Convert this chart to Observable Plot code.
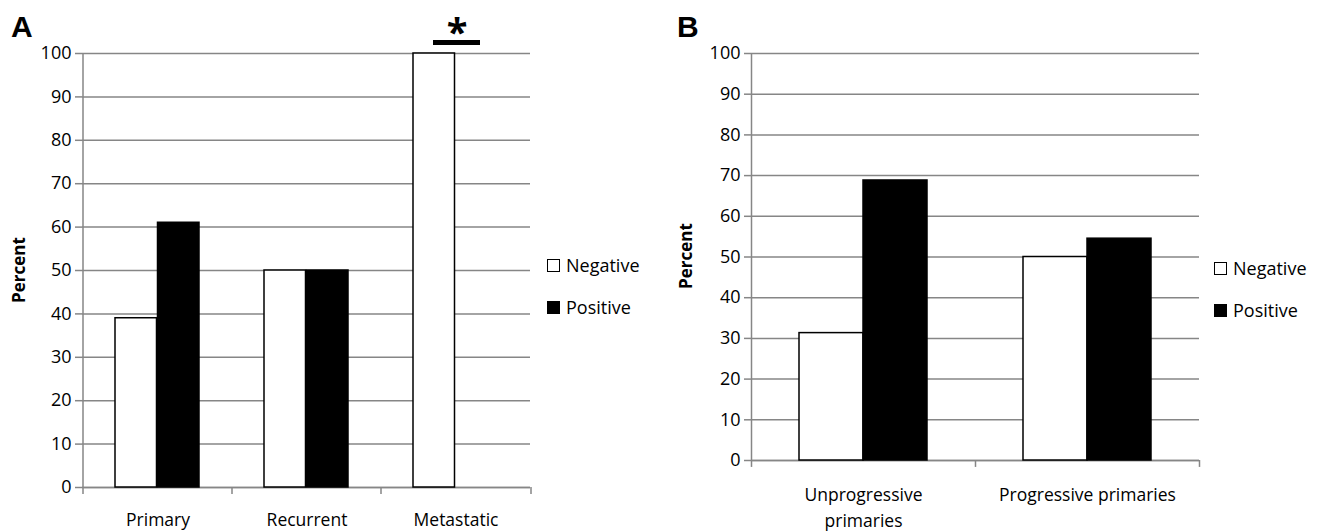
<!DOCTYPE html>
<html>
<head>
<meta charset="utf-8">
<script src="https://cdn.jsdelivr.net/npm/d3@7"></script>
<script src="https://cdn.jsdelivr.net/npm/@observablehq/plot@0.6"></script>
<style>
  html, body { margin: 0; padding: 0; background: #fff; }
  #wrap { position: relative; width: 1331px; height: 531px; overflow: hidden; font-family: "Open Sans", sans-serif; }
  .panel { position: absolute; top: 0; }
  .letter { position: absolute; font-family: "Liberation Sans", Arial, sans-serif; font-weight: bold; font-size: 30px; line-height: 1; }
  .ylab { position: absolute; font-family: "Open Sans", sans-serif; font-weight: bold; font-size: 17px; transform: translate(-50%, -50%) rotate(-90deg); white-space: nowrap; }
  .legend { position: absolute; font-family: "Open Sans", sans-serif; font-size: 18px; line-height: 1; }
  .legend .item { display: flex; align-items: center; height: 42px; }
  .legend .sw { width: 11px; height: 11px; border: 1.5px solid #000; margin-right: 6px; box-sizing: content-box; }
</style>
</head>
<body>
<div id="wrap"></div>
<script>
// ---- Data ----
const seriesNames = ["Negative", "Positive"];
const catsA = ["Primary", "Recurrent", "Metastatic"];
const negA = [39, 50, 100];
const posA = [61, 50, 0];
const sigCatsA = ["Metastatic"];

const catsB = ["Unprogressive\nprimaries", "Progressive primaries"];
const negB = [31.3, 50];
const posB = [68.8, 54.5];

const yTicks = [0, 10, 20, 30, 40, 50, 60, 70, 80, 90, 100];

function rows(cats, neg, pos) {
  return cats.flatMap((c, i) => [
    {cat: c, series: seriesNames[0], value: neg[i]},
    {cat: c, series: seriesNames[1], value: pos[i]}
  ]);
}

const wrap = document.getElementById("wrap");
const GRID = "#868686";

function panel({cats, data, width, height, mL, mR, mT, mB, band, insetOuter, barW, sig, sigDy, tickDown, xPad}) {
  const marks = [
    Plot.gridY(yTicks, {stroke: GRID, strokeOpacity: 1, strokeWidth: 1.5}),
    Plot.axisY(yTicks, {tickSize: 7, tickPadding: 4, fontSize: 18, stroke: GRID, fill: "#000", strokeWidth: 1.5, label: null}),
    Plot.ruleX([cats[0]], {x: d => d, dx: -band / 2, y1: 0, y2: 100, stroke: GRID, strokeWidth: 1.5}),
    Plot.ruleY([0], {stroke: GRID, strokeWidth: 1.5}),
    Plot.ruleX(cats, {x: d => d, dx: -band / 2, y1: 0, y2: -tickDown, stroke: GRID, strokeWidth: 1.5}),
    Plot.ruleX([cats[cats.length - 1]], {x: d => d, dx: band / 2, y1: 0, y2: -tickDown, stroke: GRID, strokeWidth: 1.5}),
    Plot.barY(data, {filter: d => d.series === "Negative" && d.value > 0, x: "cat", y: "value", fill: "#fff", stroke: "#000", strokeWidth: 1.5, insetLeft: insetOuter, insetRight: band - insetOuter - barW}),
    Plot.barY(data, {filter: d => d.series === "Positive" && d.value > 0, x: "cat", y: "value", fill: "#000", stroke: "#000", strokeWidth: 1.5, insetLeft: insetOuter + barW, insetRight: band - insetOuter - 2 * barW}),
    Plot.axisX({tickSize: 0, tickPadding: xPad, fontSize: 17.5, lineHeight: 1.5, label: null})
  ];
  if (sig) {
    marks.push(
      Plot.tickY(sig, {x: d => d, y: 100, dy: -11, stroke: "#000", strokeWidth: 5, insetLeft: 52, insetRight: 50}),
      Plot.text(sig, {x: d => d, y: 100, text: () => "*", dy: sigDy, dx: 1, fontSize: 38, fontWeight: "bold", lineAnchor: "bottom", fontFamily: "Open Sans"})
    );
  }
  return Plot.plot({
    width, height,
    marginLeft: mL, marginRight: mR, marginTop: mT, marginBottom: mB,
    style: {fontFamily: "Open Sans", fontSize: "18px", color: "#000", background: "transparent", overflow: "visible"},
    x: {type: "band", domain: cats, padding: 0, axis: null},
    y: {domain: [0, 100], axis: null},
    marks
  });
}

// Panel A
const pA = panel({
  cats: catsA, data: rows(catsA, negA, posA),
  width: 540, height: 531, mL: 82, mR: 10, mT: 53, mB: 44,
  band: 150, insetOuter: 32, barW: 42.5, sig: sigCatsA, sigDy: -8, tickDown: 1.6, xPad: 20
});
pA.classList.add("panel");
pA.style.left = "0px";
wrap.appendChild(pA);

// Panel B
const pB = panel({
  cats: catsB, data: rows(catsB, negB, posB),
  width: 560, height: 531, mL: 91, mR: 21, mT: 53, mB: 71,
  band: 224, insetOuter: 48, barW: 64, sig: null, tickDown: 1.7, xPad: 22
});
pB.classList.add("panel");
pB.style.left = "660px";
wrap.appendChild(pB);

// Letters, y labels, legends
function addDiv(cls, html, css) {
  const d = document.createElement("div");
  d.className = cls;
  d.innerHTML = html;
  Object.assign(d.style, css);
  wrap.appendChild(d);
  return d;
}
addDiv("letter", "A", {left: "11px", top: "12px"});
addDiv("letter", "B", {left: "677px", top: "12px"});
addDiv("ylab", "Percent", {left: "18px", top: "270px"});
addDiv("ylab", "Percent", {left: "685px", top: "256px"});

function legend(left, top) {
  const html = seriesNames.map((s, i) =>
    `<div class="item"><span class="sw" style="background:${i === 0 ? "#fff" : "#000"}"></span><span>${s}</span></div>`
  ).join("");
  addDiv("legend", html, {left: left + "px", top: top + "px"});
}
legend(547, 244);
legend(1214, 247);
</script>
</body>
</html>
